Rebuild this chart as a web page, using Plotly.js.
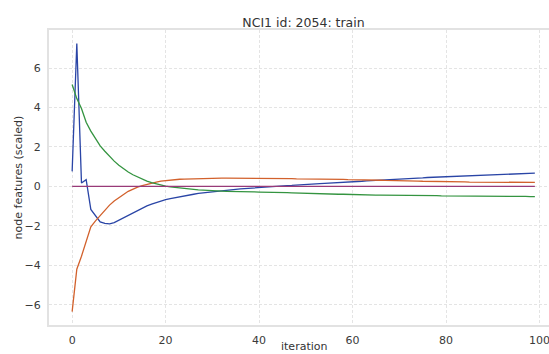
<!DOCTYPE html>
<html>
<head>
<meta charset="utf-8">
<script src="https://cdn.plot.ly/plotly-3.0.1.min.js"></script>
<style>
  html, body { margin: 0; padding: 0; overflow: hidden; background: #ffffff; }
  #chart { width: 570px; height: 362px; }
</style>
</head>
<body>
<div id="chart"></div>
<script>
// Node feature trajectories over 100 iterations (scaled values)
const iterations = Array.from({length: 100}, (_, i) => i);

const featureBlue = [
  0.76, 7.25, 0.17, 0.34, -1.17, -1.5, -1.8, -1.88, -1.9, -1.84,
  -1.72, -1.6, -1.45, -1.32, -1.2, -1.09, -0.99, -0.9, -0.82, -0.74,
  -0.67, -0.62, -0.57, -0.52, -0.48, -0.44, -0.4, -0.36, -0.33, -0.3,
  -0.27, -0.24, -0.22, -0.19, -0.17, -0.15, -0.13, -0.11, -0.09, -0.07,
  -0.05, -0.04, -0.02, -0.01, 0.01, 0.02, 0.04, 0.05, 0.07, 0.08,
  0.1, 0.11, 0.12, 0.14, 0.15, 0.16, 0.18, 0.19, 0.21, 0.22,
  0.23, 0.25, 0.26, 0.28, 0.29, 0.3, 0.32, 0.33, 0.34, 0.36,
  0.37, 0.38, 0.39, 0.41, 0.42, 0.43, 0.45, 0.46, 0.47, 0.48,
  0.5, 0.51, 0.52, 0.53, 0.54, 0.55, 0.56, 0.57, 0.58, 0.59,
  0.6, 0.61, 0.62, 0.63, 0.63, 0.64, 0.65, 0.66, 0.66, 0.67
];

const featureOrange = [
  -6.35, -4.2, -3.54, -2.75, -2.05, -1.75, -1.48, -1.2, -0.95, -0.74,
  -0.56, -0.41, -0.25, -0.13, -0.04, 0.04, 0.11, 0.17, 0.22, 0.27,
  0.3, 0.32, 0.34, 0.36, 0.37, 0.38, 0.39, 0.4, 0.4, 0.41,
  0.41, 0.42, 0.42, 0.42, 0.42, 0.42, 0.42, 0.42, 0.41, 0.41,
  0.41, 0.41, 0.4, 0.4, 0.4, 0.39, 0.39, 0.39, 0.38, 0.38,
  0.38, 0.37, 0.37, 0.37, 0.36, 0.36, 0.36, 0.35, 0.35, 0.34,
  0.34, 0.33, 0.33, 0.32, 0.32, 0.31, 0.31, 0.3, 0.3, 0.29,
  0.29, 0.28, 0.28, 0.27, 0.27, 0.26, 0.26, 0.25, 0.25, 0.24,
  0.24, 0.24, 0.23, 0.23, 0.23, 0.22, 0.22, 0.22, 0.22, 0.21,
  0.21, 0.21, 0.21, 0.2, 0.2, 0.2, 0.2, 0.2, 0.2, 0.2
];

const featureGreen = [
  5.17, 4.45, 3.95, 3.25, 2.8, 2.42, 2.05, 1.78, 1.52, 1.28,
  1.07, 0.89, 0.73, 0.59, 0.47, 0.36, 0.27, 0.19, 0.12, 0.06,
  0.01, -0.03, -0.06, -0.09, -0.12, -0.14, -0.16, -0.18, -0.19, -0.21,
  -0.22, -0.23, -0.24, -0.25, -0.25, -0.26, -0.27, -0.27, -0.28, -0.28,
  -0.29, -0.29, -0.3, -0.31, -0.31, -0.32, -0.32, -0.33, -0.34, -0.34,
  -0.35, -0.36, -0.36, -0.37, -0.38, -0.38, -0.39, -0.4, -0.4, -0.41,
  -0.42, -0.42, -0.43, -0.43, -0.43, -0.44, -0.44, -0.44, -0.45, -0.45,
  -0.45, -0.46, -0.46, -0.46, -0.46, -0.47, -0.47, -0.47, -0.47, -0.48,
  -0.48, -0.48, -0.48, -0.49, -0.49, -0.49, -0.49, -0.49, -0.5, -0.5,
  -0.5, -0.5, -0.5, -0.51, -0.51, -0.51, -0.51, -0.51, -0.52, -0.52
];

const featurePurple = [
  0, 0, 0, 0, 0, 0, 0, 0, 0, 0,
  0, 0, 0, 0, 0, 0, 0, 0, 0, 0,
  0, 0, 0, 0, 0, 0, 0, 0, 0, 0,
  0, 0, 0, 0, 0, 0, 0, 0, 0, 0,
  0, 0, 0, 0, 0, 0, 0, 0, 0, 0,
  0, 0, 0, 0, 0, 0, 0, 0, 0, 0,
  0, 0, 0, 0, 0, 0, 0, 0, 0, 0,
  0, 0, 0, 0, 0, 0, 0, 0, 0, 0,
  0, 0, 0, 0, 0, 0, 0, 0, 0, 0,
  0, 0, 0, 0, 0, 0, 0, 0, 0, 0
];

const xTickVals = [0, 20, 40, 60, 80, 100];
const yTickVals = [-6, -4, -2, 0, 2, 4, 6];
const yTickText = ['\u22126', '\u22124', '\u22122', '0', '2', '4', '6'];

function line(y, color) {
  return {
    x: iterations, y: y, type: 'scatter', mode: 'lines',
    line: {color: color, width: 1.3},
    hoverinfo: 'skip', showlegend: false
  };
}

const traces = [
  line(featureBlue, '#2a45a6'),
  line(featureOrange, '#d2612c'),
  line(featureGreen, '#349440'),
  line(featurePurple, '#983a78')
];

const labelFont = {family: 'DejaVu Sans', size: 11, color: '#333333'};

const axisCommon = {
  showline: true, linecolor: '#e2e2e2', linewidth: 2, mirror: true,
  showgrid: true, gridcolor: '#e4e4e4', gridwidth: 1, griddash: '3px,2px',
  zeroline: false,
  ticks: 'outside', ticklen: 4, tickcolor: 'rgba(0,0,0,0)',
  tickfont: {family: 'DejaVu Sans', size: 11, color: '#3a3a3a'}
};

const layout = {
  width: 570, height: 362,
  margin: {l: 49, r: 12, t: 30, b: 37},
  paper_bgcolor: '#ffffff', plot_bgcolor: '#ffffff',
  title: {
    text: 'NCI1 id: 2054: train',
    font: {family: 'DejaVu Sans', size: 12.5, color: '#333333'},
    x: 0.5, xref: 'paper', y: 1, yref: 'paper', yanchor: 'bottom', pad: {b: 3}
  },
  xaxis: Object.assign({}, axisCommon, {
    range: [-4.95, 103.95],
    tickvals: xTickVals
  }),
  yaxis: Object.assign({}, axisCommon, {
    range: [-7.03, 7.93],
    tickvals: yTickVals, ticktext: yTickText,
    title: {text: 'node features (scaled)', standoff: 0, font: labelFont}
  }),
  // x-axis label placed just under the tick labels
  annotations: [{
    text: 'iteration', font: labelFont, showarrow: false,
    xref: 'paper', x: 0.5, xanchor: 'center',
    yref: 'paper', y: 0, yanchor: 'middle', yshift: -21
  }]
};

Plotly.newPlot('chart', traces, layout, {displayModeBar: false, staticPlot: true});
</script>
</body>
</html>
